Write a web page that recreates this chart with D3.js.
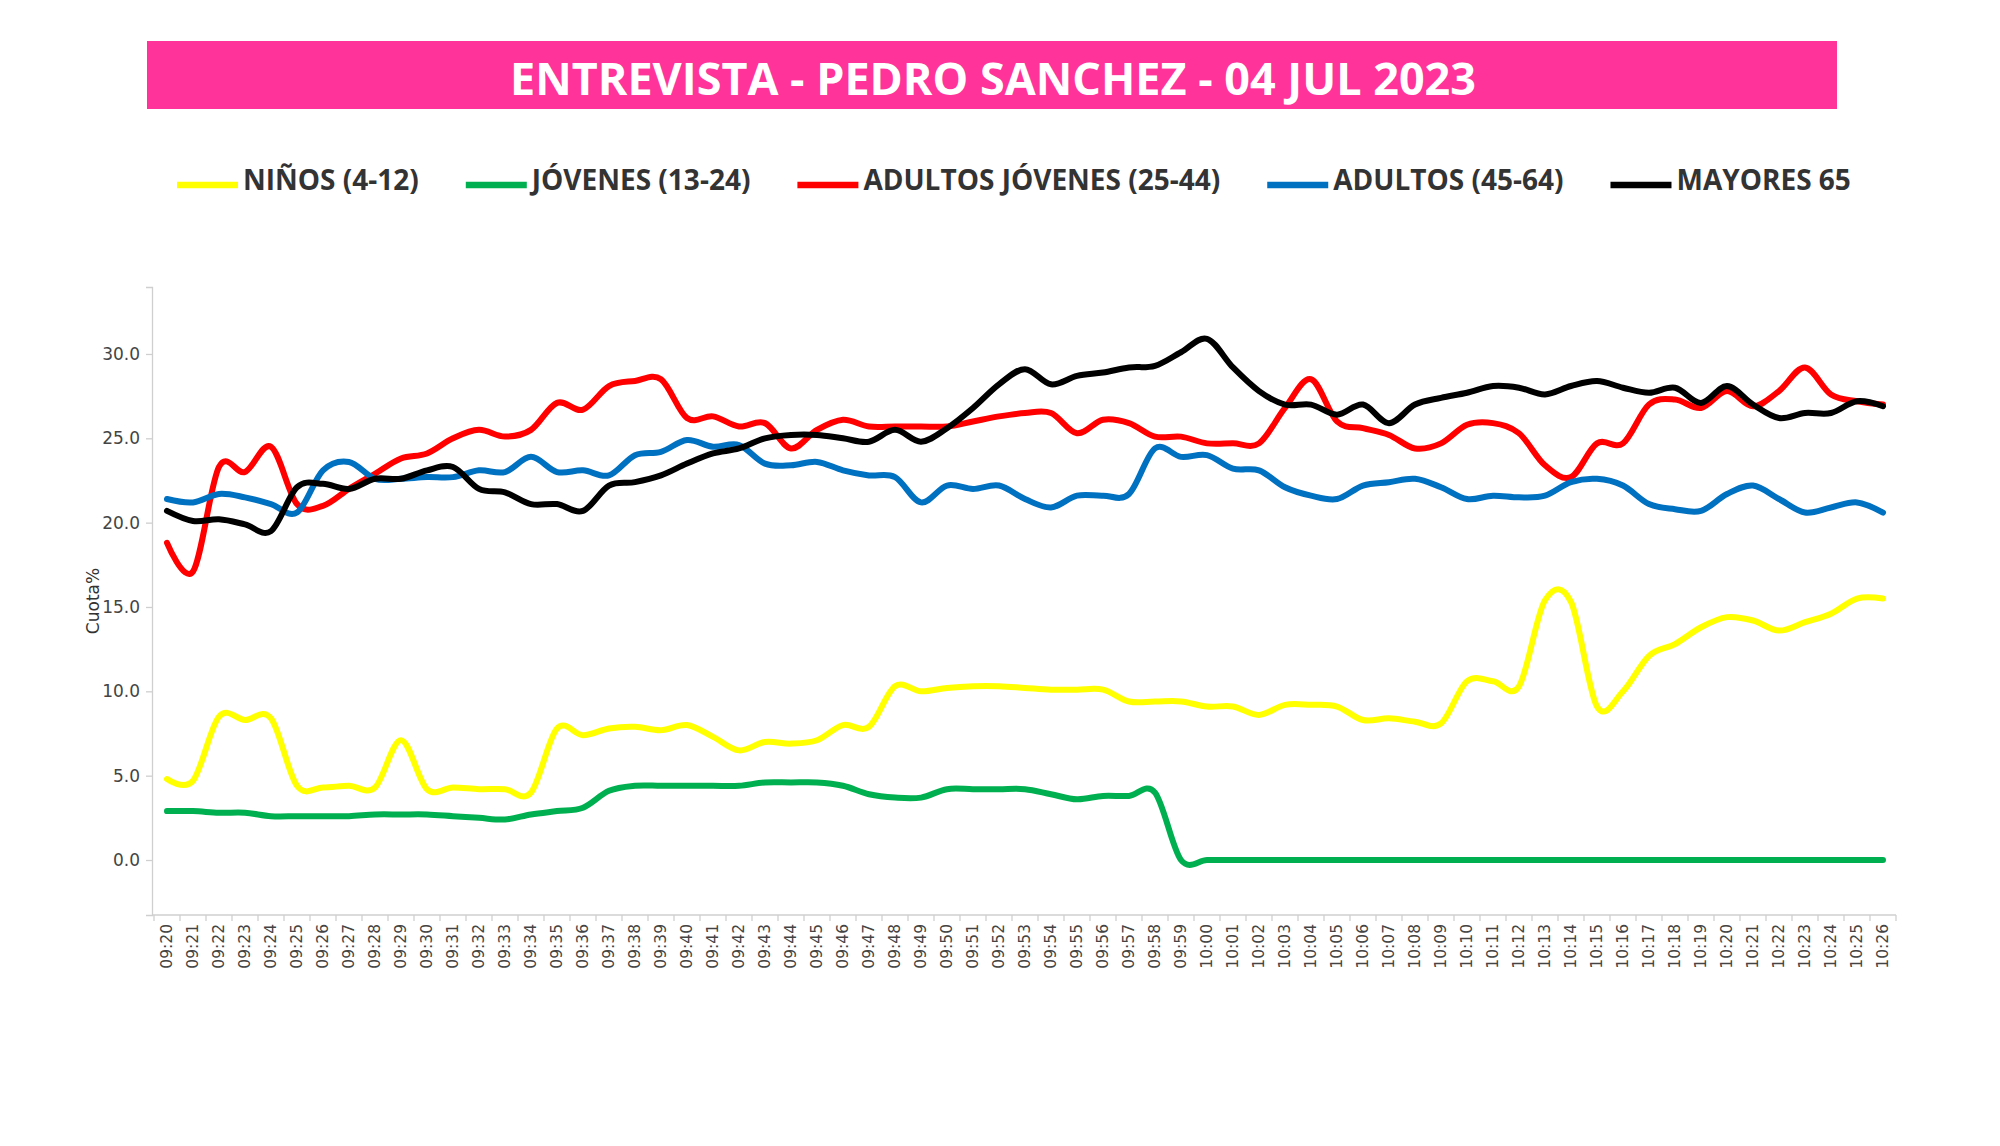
<!DOCTYPE html>
<html><head><meta charset="utf-8">
<script src="https://cdn.jsdelivr.net/npm/d3@7"></script>
<style>html,body{margin:0;padding:0;background:#fff;} svg{display:block;}</style>
</head><body>
<svg id="chart" width="2000" height="1146"></svg>
<script>
// ---------- DATA ----------
const title = "ENTREVISTA - PEDRO SANCHEZ - 04 JUL 2023";
const yTitle = "Cuota%";
const times = ["09:20","09:21","09:22","09:23","09:24","09:25","09:26","09:27","09:28","09:29",
  "09:30","09:31","09:32","09:33","09:34","09:35","09:36","09:37","09:38","09:39",
  "09:40","09:41","09:42","09:43","09:44","09:45","09:46","09:47","09:48","09:49",
  "09:50","09:51","09:52","09:53","09:54","09:55","09:56","09:57","09:58","09:59",
  "10:00","10:01","10:02","10:03","10:04","10:05","10:06","10:07","10:08","10:09",
  "10:10","10:11","10:12","10:13","10:14","10:15","10:16","10:17","10:18","10:19",
  "10:20","10:21","10:22","10:23","10:24","10:25","10:26"];
const seriesNames = ["NIÑOS (4-12)","JÓVENES (13-24)","ADULTOS JÓVENES (25-44)","ADULTOS (45-64)","MAYORES 65"];
const ninos = [4.8,4.7,8.5,8.3,8.4,4.4,4.3,4.4,4.3,7.1,
  4.2,4.3,4.2,4.2,4.0,7.8,7.4,7.8,7.9,7.7,
  8.0,7.3,6.5,7.0,6.9,7.1,8.0,7.9,10.3,10.0,
  10.2,10.3,10.3,10.2,10.1,10.1,10.1,9.4,9.4,9.4,
  9.1,9.1,8.6,9.2,9.2,9.1,8.3,8.4,8.2,8.1,
  10.6,10.6,10.3,15.4,15.3,9.1,10.0,12.1,12.8,13.8,
  14.4,14.2,13.6,14.1,14.6,15.5,15.5];
const jovenes = [2.9,2.9,2.8,2.8,2.6,2.6,2.6,2.6,2.7,2.7,
  2.7,2.6,2.5,2.4,2.7,2.9,3.1,4.1,4.4,4.4,
  4.4,4.4,4.4,4.6,4.6,4.6,4.4,3.9,3.7,3.7,
  4.2,4.2,4.2,4.2,3.9,3.6,3.8,3.8,4.0,0,
  0,0,0,0,0,0,0,0,0,0,
  0,0,0,0,0,0,0,0,0,0,
  0,0,0,0,0,0,0];
const adultosJovenes = [18.8,17.1,23.3,23.0,24.5,21.1,21.0,22.0,22.9,23.8,
  24.1,25.0,25.5,25.1,25.5,27.1,26.7,28.1,28.4,28.5,
  26.2,26.3,25.7,25.9,24.4,25.5,26.1,25.7,25.7,25.7,
  25.7,26.0,26.3,26.5,26.5,25.3,26.1,25.9,25.1,25.1,
  24.7,24.7,24.7,26.8,28.5,26.0,25.6,25.2,24.4,24.7,
  25.8,25.9,25.3,23.4,22.7,24.7,24.7,27.0,27.3,26.8,
  27.8,26.9,27.8,29.2,27.6,27.2,27.0];
const adultos = [21.4,21.2,21.7,21.5,21.1,20.6,23.1,23.6,22.6,22.6,
  22.7,22.7,23.1,23.0,23.9,23.0,23.1,22.8,24.0,24.2,
  24.9,24.5,24.6,23.5,23.4,23.6,23.1,22.8,22.7,21.2,
  22.2,22.0,22.2,21.4,20.9,21.6,21.6,21.7,24.4,23.9,
  24.0,23.2,23.1,22.1,21.6,21.4,22.2,22.4,22.6,22.1,
  21.4,21.6,21.5,21.6,22.4,22.6,22.2,21.1,20.8,20.7,
  21.7,22.2,21.4,20.6,20.9,21.2,20.6];
const mayores = [20.7,20.1,20.2,19.9,19.5,22.1,22.3,22.0,22.6,22.6,
  23.1,23.3,22.0,21.8,21.1,21.1,20.7,22.2,22.4,22.8,
  23.5,24.1,24.4,25.0,25.2,25.2,25.0,24.8,25.5,24.8,
  25.6,26.8,28.2,29.1,28.2,28.7,28.9,29.2,29.3,30.1,
  30.9,29.2,27.8,27.0,27.0,26.4,27.0,25.9,27.0,27.4,
  27.7,28.1,28.0,27.6,28.1,28.4,28.0,27.7,28.0,27.1,
  28.1,27.0,26.2,26.5,26.5,27.2,26.9];
const yTicks = [0,5,10,15,20,25,30];

// ---------- STYLE ----------
const colors = ["#FFFF00","#00B050","#FF0000","#0070C0","#000000"];
const series = [ninos, jovenes, adultosJovenes, adultos, mayores];
const axisColor = "#cfcfcf";
const tickText = "#444";

const svg = d3.select("#chart");
svg.append("rect").attr("width",2000).attr("height",1146).attr("fill","#fff");

// title bar
svg.append("rect").attr("x",147).attr("y",41).attr("width",1690).attr("height",68).attr("fill","#FF3399");
svg.append("text").attr("x",993).attr("y",95).attr("text-anchor","middle")
  .attr("font-family","'Open Sans', sans-serif").attr("font-weight",700).attr("font-size",45)
  .attr("fill","#fff").attr("textLength",966).attr("lengthAdjust","spacingAndGlyphs").text(title);

// legend
let lx = 177;
seriesNames.forEach((name,i)=>{
  svg.append("line").attr("x1",lx).attr("x2",lx+61).attr("y1",185).attr("y2",185)
    .attr("stroke",colors[i]).attr("stroke-width",6.5);
  const t = svg.append("text").attr("x",lx+66).attr("y",190)
    .attr("font-family","'Open Sans', sans-serif").attr("font-weight",700).attr("font-size",28)
    .attr("fill","#333").text(name);
  lx += 66 + t.node().getComputedTextLength() + 47;
});

// scales
const x = d3.scaleBand().domain(times).range([154,1896]);
const y = d3.scaleLinear().domain([-3.26,33.97]).range([915,287]);
const cx = d => x(d) + x.bandwidth()/2;

// y axis
const yAxis = svg.append("g").attr("transform","translate(152,0)")
  .call(d3.axisLeft(y).tickValues(yTicks).tickFormat(d3.format(".1f")).tickSize(6).tickPadding(6));
yAxis.select(".domain").attr("stroke",axisColor).attr("stroke-width",1.3);
yAxis.selectAll(".tick line").attr("stroke",axisColor).attr("stroke-width",1.3);
yAxis.selectAll(".tick text").attr("font-family","'DejaVu Sans', sans-serif").attr("font-size",17).attr("fill",tickText);

svg.append("text").attr("transform","translate(93,601) rotate(-90)").attr("dy","0.35em")
  .attr("text-anchor","middle").attr("font-family","'DejaVu Sans', sans-serif").attr("font-size",17)
  .attr("fill","#333").text(yTitle);

// x axis
svg.append("line").attr("x1",152).attr("x2",1896).attr("y1",915).attr("y2",915)
  .attr("stroke",axisColor).attr("stroke-width",1.3);
svg.append("g").selectAll("line").data(times.concat([null])).join("line")
  .attr("x1",d=> d===null ? x.range()[1] : x(d)).attr("x2",d=> d===null ? x.range()[1] : x(d))
  .attr("y1",915).attr("y2",921).attr("stroke",axisColor).attr("stroke-width",1.3);
svg.append("g").selectAll("text").data(times).join("text")
  .attr("transform",d=>`translate(${cx(d)},924) rotate(-90)`).attr("dy","0.35em")
  .attr("text-anchor","end").attr("font-family","'DejaVu Sans', sans-serif").attr("font-size",15.5)
  .attr("fill",tickText).text(d=>d);

// lines
const line = d3.line().x((d,i)=>cx(times[i])).y(d=>y(d)).curve(d3.curveCatmullRom.alpha(0));
svg.append("g").selectAll("path").data(series).join("path")
  .attr("d",d=>line(d)).attr("fill","none").attr("stroke",(d,i)=>colors[i])
  .attr("stroke-width",6).attr("stroke-linejoin","round").attr("stroke-linecap","round");
</script>
</body></html>
